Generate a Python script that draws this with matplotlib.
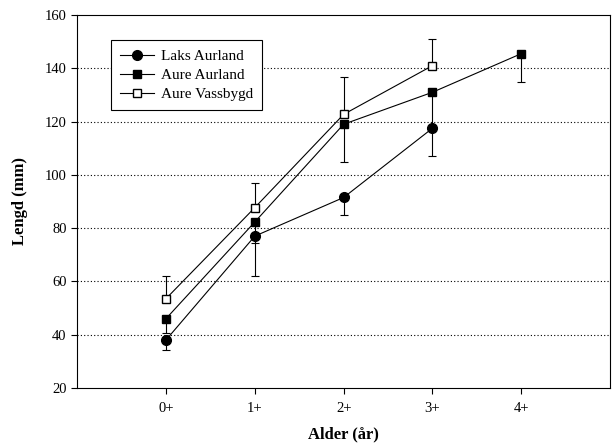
import matplotlib
matplotlib.use("Agg")
import matplotlib.pyplot as plt

plt.rcParams['font.family'] = ['Liberation Serif', 'DejaVu Serif']

ages = [0, 1, 2, 3, 4]
age_labels = ["0+", "1+", "2+", "3+", "4+"]

laks_aurland = [38, 77, 91.5, 117.5]
laks_err_low = [3.7, 15, 6.7, 10.5]

aure_aurland = [46, 82.3, 119, 131, 145.5]
aure_aurland_err_low = [5.3, 7.8, 14, 13, 10.8]

aure_vassbygd = [53.5, 87.7, 122.7, 141]
aure_vassbygd_err_up = [8.7, 9.2, 14, 10]

fig = plt.figure(figsize=(6.12, 4.48), dpi=100)
ax = fig.add_axes([0.126, 0.134, 0.871, 0.8325])

for y in range(40, 160, 20):
    ax.axhline(y, color='black', linestyle=(0, (1, 2)), linewidth=0.8, zorder=0)

c1 = ax.errorbar(ages[:4], laks_aurland, yerr=[laks_err_low, [0] * 4], fmt='-o',
                 color='black', mfc='black', ms=7, lw=0.8, elinewidth=0.8,
                 capsize=3, capthick=0.8, zorder=3)
c2 = ax.errorbar(ages, aure_aurland, yerr=[aure_aurland_err_low, [0] * 5], fmt='-s',
                 color='black', mfc='black', ms=6, lw=0.8, elinewidth=0.8,
                 capsize=3, capthick=0.8, zorder=3)
c3 = ax.errorbar(ages[:4], aure_vassbygd, yerr=[[0] * 4, aure_vassbygd_err_up], fmt='-s',
                 color='black', mfc='white', ms=6, lw=0.8, elinewidth=0.8,
                 capsize=3, capthick=0.8, zorder=3)

ax.set_xlim(-1, 5)
ax.set_ylim(20, 160)
ax.set_xticks(ages)
ax.set_xticklabels(age_labels)
ax.set_yticks(range(20, 161, 20))
ax.tick_params(direction='out', length=4, width=0.8, labelsize=10.5)
ax.tick_params(axis='x', pad=6)
for s in ax.spines.values():
    s.set_linewidth(0.8)

ax.set_xlabel("Alder (år)", fontsize=12, fontweight='bold', labelpad=8)
ax.set_ylabel("Lengd (mm)", fontsize=12, fontweight='bold', labelpad=12)

leg = ax.legend([c1[0], c2[0], c3[0]], ["Laks Aurland", "Aure Aurland", "Aure Vassbygd"],
                loc='upper left', bbox_to_anchor=(0.0638, 0.933), borderaxespad=0,
                fontsize=11, fancybox=False, edgecolor='black', framealpha=1,
                handlelength=2.2, handletextpad=0.45, borderpad=0.6,
                labelspacing=0.35)
leg.get_frame().set_linewidth(0.8)

fig.savefig("out.png", dpi=100)
